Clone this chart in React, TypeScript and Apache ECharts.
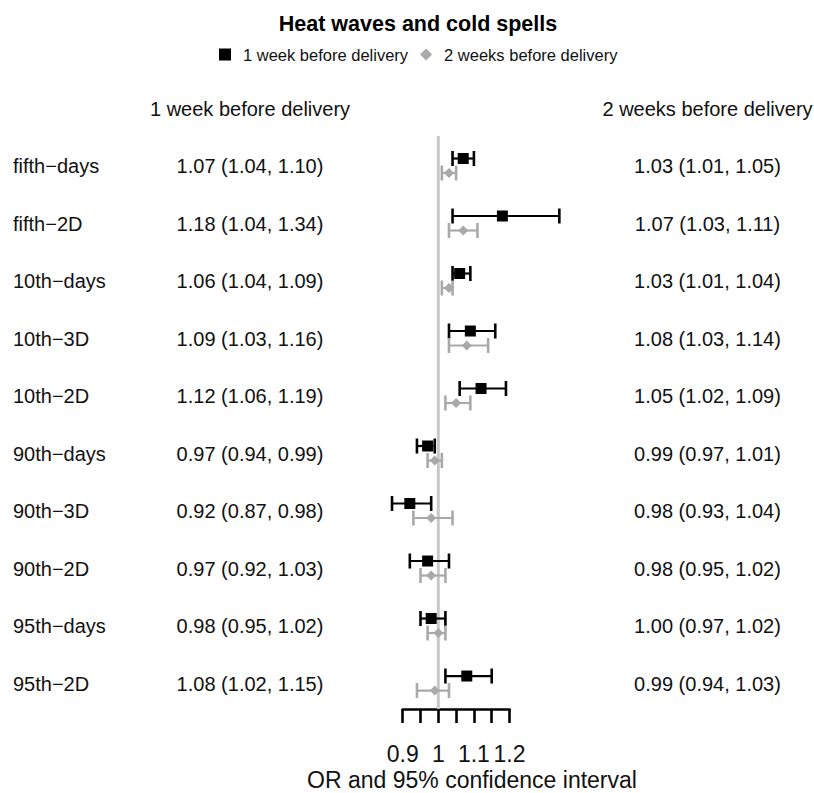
import React, { useEffect, useRef } from "react";
import * as echarts from "echarts";

const rowLabels = [
  "fifth−days",
  "fifth−2D",
  "10th−days",
  "10th−3D",
  "10th−2D",
  "90th−days",
  "90th−3D",
  "90th−2D",
  "95th−days",
  "95th−2D",
];
const or1 = [1.07, 1.18, 1.06, 1.09, 1.12, 0.97, 0.92, 0.97, 0.98, 1.08];
const lo1 = [1.04, 1.04, 1.04, 1.03, 1.06, 0.94, 0.87, 0.92, 0.95, 1.02];
const hi1 = [1.1, 1.34, 1.09, 1.16, 1.19, 0.99, 0.98, 1.03, 1.02, 1.15];
const or2 = [1.03, 1.07, 1.03, 1.08, 1.05, 0.99, 0.98, 0.98, 1.0, 0.99];
const lo2 = [1.01, 1.03, 1.01, 1.03, 1.02, 0.97, 0.93, 0.95, 0.97, 0.94];
const hi2 = [1.05, 1.11, 1.04, 1.14, 1.09, 1.01, 1.04, 1.02, 1.02, 1.03];
const xTickLabels = [0.9, 1, 1.1, 1.2];
const seriesNames = ["1 week before delivery", "2 weeks before delivery"];
const titleText = "Heat waves and cold spells";
const xTitle = "OR and 95% confidence interval";

const FONT = "'Liberation Sans', Arial, Helvetica, sans-serif";
const BLACK = "#000000";
const GREY = "#a9a9a9";
const REF = "#c8c8c8";

const fmt = (v: number) => v.toFixed(2);
const ciText = (o: number[], l: number[], h: number[], i: number) =>
  `${fmt(o[i])} (${fmt(l[i])}, ${fmt(h[i])})`;

function txt(text: string, x: number, y: number, align: string, size: number) {
  return {
    type: "text",
    x,
    y,
    style: {
      text,
      fill: "#111111",
      font: `${size}px ${FONT}`,
      fontSize: size,
      fontFamily: FONT,
      align,
      textAlign: align,
      verticalAlign: "middle",
      textVerticalAlign: "middle",
    },
  };
}

function barSeries(
  name: string,
  o: number[],
  l: number[],
  h: number[],
  color: string,
  dy: number,
  marker: "square" | "diamond"
) {
  return {
    type: "custom",
    name,
    itemStyle: { color },
    clip: false,
    z: 5,
    data: o.map((v, i) => [v, i, l[i], h[i]]),
    encode: { x: [0, 2, 3], y: 1 },
    renderItem: (_params: any, api: any) => {
      const i = api.value(1);
      const pm = api.coord([api.value(0), i]);
      const pl = api.coord([api.value(2), i]);
      const ph = api.coord([api.value(3), i]);
      const y = pm[1] + dy;
      const cap = 7.5;
      const children: any[] = [
        { type: "line", shape: { x1: pl[0], y1: y, x2: ph[0], y2: y }, style: { stroke: color, lineWidth: 2.2 } },
        { type: "line", shape: { x1: pl[0], y1: y - cap, x2: pl[0], y2: y + cap }, style: { stroke: color, lineWidth: 2.6 } },
        { type: "line", shape: { x1: ph[0], y1: y - cap, x2: ph[0], y2: y + cap }, style: { stroke: color, lineWidth: 2.6 } },
      ];
      if (marker === "square") {
        children.push({ type: "rect", shape: { x: pm[0] - 5.5, y: y - 5.5, width: 11, height: 11 }, style: { fill: color } });
      } else {
        const s = 5;
        children.push({
          type: "polygon",
          shape: { points: [[pm[0], y - s], [pm[0] + s, y], [pm[0], y + s], [pm[0] - s, y]] },
          style: { fill: color },
        });
      }
      return { type: "group", children };
    },
  };
}

export default function App() {
  const ref = useRef<HTMLDivElement>(null);
  useEffect(() => {
    if (!ref.current) return;
    const chart = echarts.init(ref.current, null, { renderer: "svg" });
    const option: any = {
      animation: false,
      backgroundColor: "#ffffff",
      title: {
        text: titleText,
        left: 413,
        textAlign: "center",
        top: 8,
        textStyle: { fontSize: 21.5, fontWeight: "bold", color: BLACK, fontFamily: FONT },
      },
      legend: {
        top: 41,
        left: 214,
        itemWidth: 12,
        itemHeight: 12,
        itemGap: 12,
        selectedMode: false,
        textStyle: { fontSize: 16.5, color: "#111111", fontFamily: FONT, padding: [0, 0, 0, 7] },
        data: [
          { name: seriesNames[0], icon: "rect" },
          { name: seriesNames[1], icon: "diamond" },
        ],
      },
      grid: { left: 402.7, width: 106.8, top: 108.5, height: 600.5 },
      xAxis: {
        type: "value",
        position: "bottom",
        min: 0.9,
        max: 1.2,
        interval: 0.05,
        axisLine: { show: true, onZero: false, lineStyle: { color: BLACK, width: 2.6 } },
        axisTick: { show: true, length: 14, lineStyle: { color: BLACK, width: 2.6 } },
        splitLine: { show: false },
        axisLabel: {
          show: true,
          hideOverlap: false,
          showMinLabel: true,
          showMaxLabel: true,
          margin: 33,
          fontSize: 23,
          color: "#111111",
          fontFamily: FONT,
          formatter: (v: number) => {
            const r = Math.round(v * 100) / 100;
            return xTickLabels.some((t) => Math.abs(t - r) < 1e-6) ? String(r) : "";
          },
        },
      },
      yAxis: { type: "value", inverse: true, min: -1, max: 9.443, show: false },
      graphic: [
        {
          type: "text",
          x: 472,
          y: 780,
          style: {
            text: xTitle,
            fill: "#111111",
            font: `23px ${FONT}`,
            align: "center",
            textAlign: "center",
            verticalAlign: "middle",
            textVerticalAlign: "middle",
          },
        },
      ],
      series: [
        {
          type: "line",
          name: "ref",
          silent: true,
          symbol: "none",
          z: 1,
          lineStyle: { color: REF, width: 3 },
          data: [
            [1, -0.52],
            [1, 9.443],
          ],
        },
        barSeries(seriesNames[0], or1, lo1, hi1, BLACK, -7.5, "square"),
        barSeries(seriesNames[1], or2, lo2, hi2, GREY, 7, "diamond"),
        {
          type: "custom",
          name: "headers",
          silent: true,
          data: [[1, -1]],
          encode: { x: 0, y: 1 },
          renderItem: (_p: any, api: any) => {
            const y = api.coord([1, api.value(1)])[1];
            return {
              type: "group",
              children: [txt(seriesNames[0], 250, y, "center", 20), txt(seriesNames[1], 707.5, y, "center", 20)],
            };
          },
        },
        {
          type: "custom",
          name: "rowtexts",
          silent: true,
          data: rowLabels.map((_, i) => [1, i]),
          encode: { x: 0, y: 1 },
          renderItem: (p: any, api: any) => {
            const i = p.dataIndex;
            const y = api.coord([1, api.value(1)])[1];
            return {
              type: "group",
              children: [
                txt(rowLabels[i], 13, y, "left", 20),
                txt(ciText(or1, lo1, hi1, i), 250, y, "center", 20),
                txt(ciText(or2, lo2, hi2, i), 707.5, y, "center", 20),
              ],
            };
          },
        },
      ],
    };
    chart.setOption(option);
    return () => chart.dispose();
  }, []);
  return (
    <div
      ref={ref}
      style={{ position: "fixed", left: 0, top: 0, width: 814, height: 793, background: "#fff" }}
    />
  );
}
